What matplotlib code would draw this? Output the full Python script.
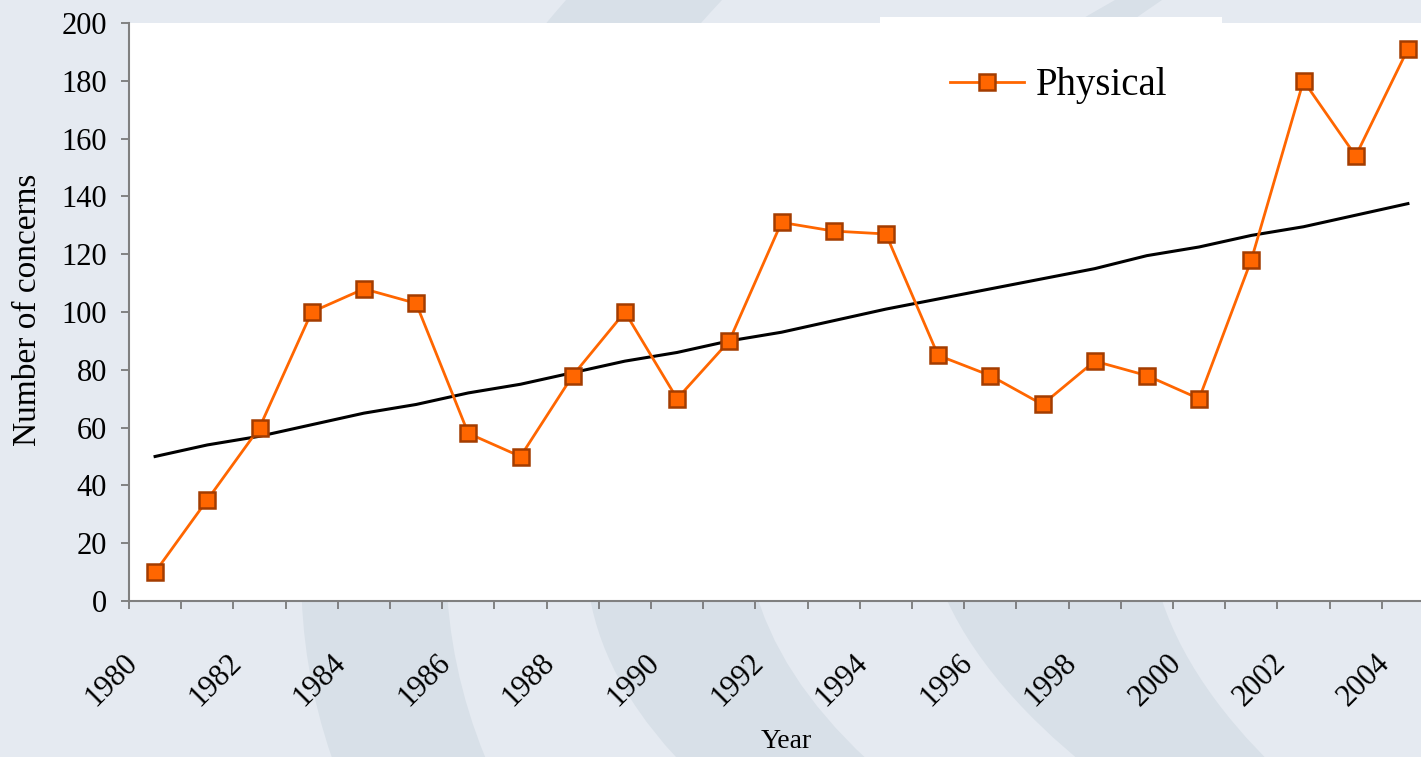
import matplotlib
matplotlib.use("Agg")
import matplotlib.pyplot as plt
import matplotlib.transforms as mtransforms
from matplotlib.path import Path
from matplotlib.patches import PathPatch, Rectangle
import numpy as np

# data
years = list(range(1980, 2005))
physical = [10, 35, 60, 100, 108, 103, 58, 50, 78, 100, 70, 90, 131, 128, 127,
            85, 78, 68, 83, 78, 70, 118, 180, 154, 191]
trend = [50, 54, 57, 61, 65, 68, 72, 75, 79, 83, 86, 90, 93, 97, 101,
         104.5, 108, 111.5, 115, 119.5, 122.5, 126.5, 129.5, 133.5, 137.5]
label_years = years[::2]

plt.rcParams['font.family'] = 'Liberation Serif'

W, H = 1421, 757
fig = plt.figure(figsize=(W / 100, H / 100), dpi=100)
fig.patch.set_facecolor('#e5eaf1')

# pixel coords (y down) -> figure
pix = mtransforms.Affine2D().scale(1 / W, -1 / H).translate(0, 1) + fig.transFigure

# decorative swooshes in the background
def band(left, right, color='#d8e0e8'):
    verts = [left[0], left[1], left[2], right[2], right[1], right[0], left[0]]
    codes = [Path.MOVETO, Path.CURVE3, Path.CURVE3, Path.LINETO,
             Path.CURVE3, Path.CURVE3, Path.CLOSEPOLY]
    fig.patches.append(PathPatch(Path(verts, codes), transform=pix,
                                 facecolor=color, edgecolor='none', zorder=-2))

band([(566, 0), (200, 420), (340, 780)], [(722, 0), (330, 420), (495, 780)])
band([(1115, 0), (320, 450), (720, 800)], [(1162, 0), (500, 450), (890, 780)])
band([(1500, 0), (580, 400), (1130, 800)], [(1700, 0), (850, 400), (1310, 800)])

# white box behind the legend
fig.patches.append(Rectangle((880, 17), 342, 120, transform=pix,
                             facecolor='white', edgecolor='none', zorder=-1))

left, right, top, bottom = 129, 1434, 23, 601
ax = fig.add_axes([left / W, 1 - bottom / H, (right - left) / W, (bottom - top) / H])
ax.set_facecolor('white')

x = np.arange(len(years))
ax.plot(x, trend, color='black', lw=2.2, zorder=2)
ax.plot(x, physical, color='#ff6600', lw=2.0, marker='s', markersize=11,
        markerfacecolor='#ff6600', markeredgecolor='#a33c00', markeredgewidth=1.8,
        label='Physical', zorder=3)

ax.set_xlim(-0.5, len(years) - 0.5)
ax.set_ylim(0, 200)
ax.set_yticks(range(0, 201, 20))

ax.set_xticks(x[::2])
ax.set_xticklabels([str(y) for y in label_years])
ax.set_xticks(np.arange(len(years) + 1) - 0.5, minor=True)
ax.tick_params(axis='x', which='major', length=0, pad=34, labelsize=22, labelrotation=45)
ax.tick_params(axis='x', which='minor', length=6, width=1.2, color='#707070', direction='out')
ax.tick_params(axis='y', length=6, width=1.2, color='#707070', direction='out', pad=10, labelsize=22)
shift = mtransforms.ScaledTranslation(-12 / 100, 0, fig.dpi_scale_trans)
for lab in ax.get_xticklabels():
    lab.set_ha('right')
    lab.set_va('top')
    lab.set_transform(lab.get_transform() + shift)

for s in ['top', 'right']:
    ax.spines[s].set_visible(False)
for s in ['left', 'bottom']:
    ax.spines[s].set_color('#808080')
    ax.spines[s].set_linewidth(1.5)

ax.set_xlabel('Year', fontsize=20, va='center')
ax.xaxis.set_label_coords((786 - left) / (right - left), (bottom - 741) / (bottom - top))
ax.set_ylabel('Number of concerns', fontsize=24, va='center')
ax.yaxis.set_label_coords((28 - left) / (right - left), (bottom - 310) / (bottom - top))

leg = ax.legend(loc='center left', bbox_to_anchor=(950 / W, 1 - 86 / H),
                bbox_transform=fig.transFigure, frameon=False, fontsize=28,
                handlelength=1.9, handletextpad=0.3, borderpad=0, borderaxespad=0)

fig.savefig('out.png', dpi=100, facecolor=fig.get_facecolor())
